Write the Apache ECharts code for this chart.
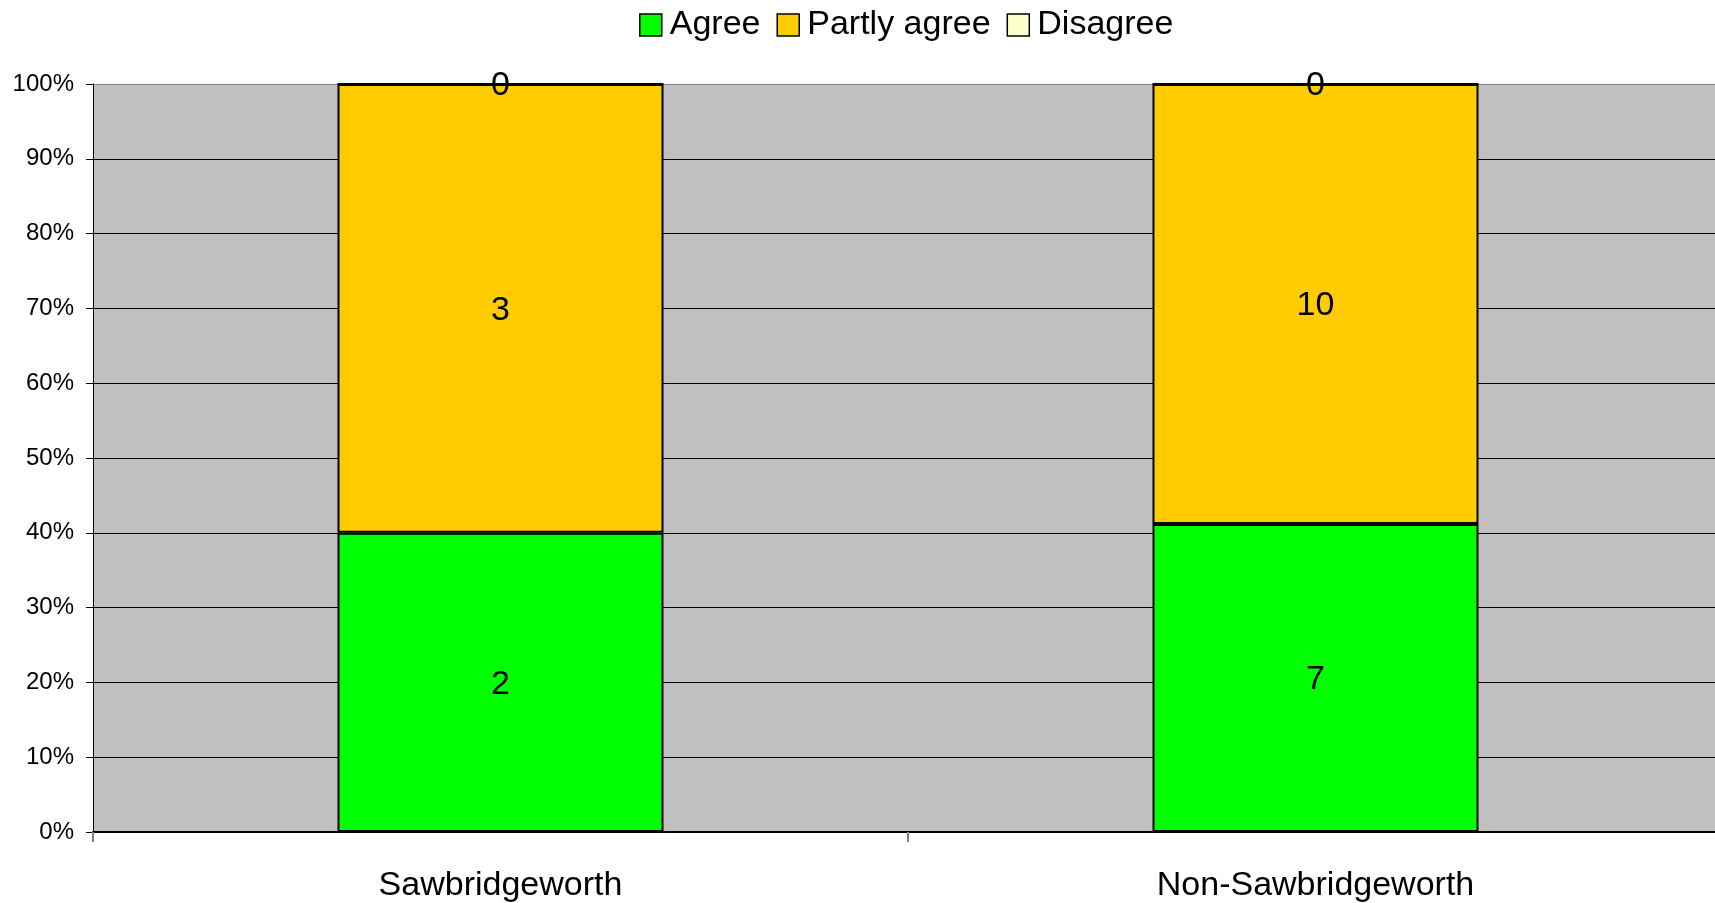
<!DOCTYPE html>
<html>
<head>
<meta charset="utf-8">
<script src="https://cdn.jsdelivr.net/npm/echarts@6/dist/echarts.min.js"></script>
<style>
html,body{margin:0;padding:0;background:#fff;overflow:hidden;}
#chart{width:1723px;height:903px;}
</style>
</head>
<body>
<div id="chart"></div>
<script>
const categories = ['Sawbridgeworth', 'Non-Sawbridgeworth'];
const seriesNames = ['Agree', 'Partly agree', 'Disagree'];
const agree = [2, 7];
const partlyAgree = [3, 10];
const disagree = [0, 0];
const yTicks = [0, 10, 20, 30, 40, 50, 60, 70, 80, 90, 100];

const counts = [agree, partlyAgree, disagree];
const colors = ['#00FF00', '#FFCC00', '#FFFFCC'];
const totals = categories.map((c, i) => counts.reduce((s, arr) => s + arr[i], 0));

const FONT = 'Liberation Sans, Arial, sans-serif';

const series = seriesNames.map((name, si) => ({
  name: name,
  type: 'bar',
  stack: 'total',
  barWidth: '40%',
  data: counts[si].map((v, i) => totals[i] ? v / totals[i] * 100 : 0),
  itemStyle: { color: colors[si], borderColor: '#000', borderWidth: 2 },
  label: {
    show: true,
    position: 'inside',
    offset: [0, 2],
    fontSize: 34,
    fontFamily: FONT,
    color: '#000',
    formatter: p => String(counts[si][p.dataIndex])
  },
  emphasis: { disabled: true }
}));

const splitColors = yTicks.map((t, i) => i === yTicks.length - 1 ? '#808080' : '#000');

const chart = echarts.init(document.getElementById('chart'));
chart.setOption({
  animation: false,
  textStyle: { fontFamily: FONT },
  legend: {
    top: 3,
    left: 634,
    itemWidth: 22,
    itemHeight: 22,
    itemGap: 16,
    icon: 'rect',
    textStyle: { fontSize: 34, color: '#000', fontFamily: FONT, padding: [0, 0, 0, 3] },
    itemStyle: { borderColor: '#000', borderWidth: 1.5 },
    data: seriesNames
  },
  grid: {
    left: 93,
    right: 0,
    top: 84,
    bottom: 71,
    show: true,
    backgroundColor: '#C0C0C0',
    borderWidth: 0
  },
  xAxis: {
    type: 'category',
    data: categories,
    axisLine: { lineStyle: { color: '#000', width: 2 } },
    axisTick: { show: true, length: 10, lineStyle: { color: '#808080', width: 2 } },
    axisLabel: { fontSize: 34, color: '#000', fontFamily: FONT, margin: 37 }
  },
  yAxis: {
    type: 'value',
    min: 0,
    max: 100,
    interval: 10,
    axisLine: { show: true, lineStyle: { color: '#000', width: 1 } },
    axisTick: { show: true, length: 7, lineStyle: { color: '#000' } },
    axisLabel: { formatter: '{value}%', fontSize: 24, color: '#000', fontFamily: FONT, margin: 19 },
    splitLine: { show: true, lineStyle: { color: splitColors, width: 1 } }
  },
  series: series
});
</script>
</body>
</html>
